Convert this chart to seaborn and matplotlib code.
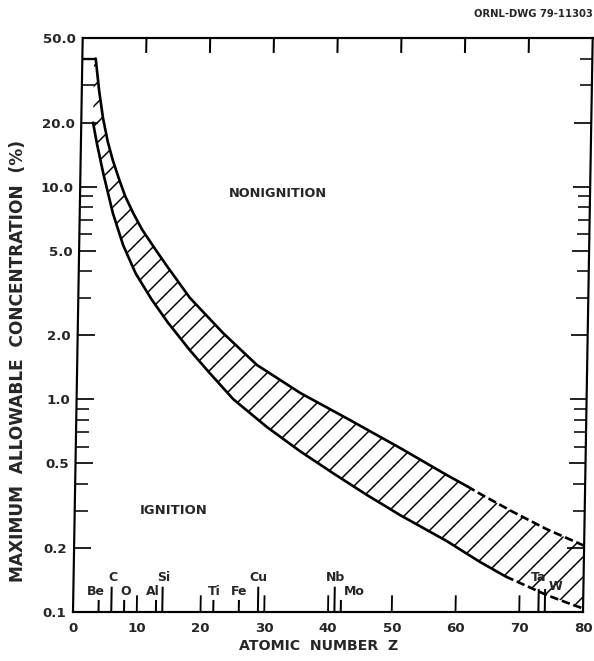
import matplotlib
matplotlib.use("Agg")
import matplotlib.pyplot as plt
import matplotlib.transforms as mtransforms
from matplotlib.axes import Axes
from matplotlib.projections import register_projection
import numpy as np
import pandas as pd
import seaborn as sns
from matplotlib.ticker import FixedLocator, FixedFormatter, NullFormatter

# Upper boundary of the band: above it no ignition occurs
z_upper = [2.1, 2.7, 3.4, 4.2, 5.05, 6.1, 7.1, 8.4, 9.8, 11.9, 13.9, 17.5,
           22.8, 28.2, 35.1, 42.9, 50.9, 58.3, 61.5, 63.5, 68.8, 74.1, 80.0]
c_upper = [40.0, 28.5, 21.0, 16.3, 13.3, 10.8, 9.0, 7.5, 6.3, 5.1, 4.2, 3.0,
           2.05, 1.45, 1.07, 0.80, 0.59, 0.44, 0.39, 0.36, 0.295, 0.245, 0.205]

# Lower boundary of the band: below it ignition is possible
z_lower = [1.85, 2.5, 3.6, 5.2, 6.9, 8.95, 11.5, 14.1, 17.65, 20.8, 24.6,
           29.95, 35.2, 40.4, 45.8, 51.1, 58.5, 63.7, 67.75, 74.3, 78.4, 80.0]
c_lower = [20.0, 16.0, 11.5, 7.5, 5.3, 3.9, 2.95, 2.3, 1.7, 1.33, 1.0,
           0.74, 0.57, 0.45, 0.355, 0.285, 0.215, 0.172, 0.147, 0.120, 0.108, 0.104]

# Beyond these Z values the boundaries are extrapolated
z_upper_extrap = 61.5
z_lower_extrap = 67.75

elements = ["Be", "C", "O", "Al", "Si", "Ti", "Fe", "Cu", "Nb", "Mo", "Ta", "W"]
element_z = [4, 6, 8, 13, 14, 22, 26, 29, 41, 42, 73, 74]

y_ticks = [0.1, 0.2, 0.5, 1.0, 2.0, 5.0, 10.0, 20.0, 50.0]
y_tick_labels = ["0.1", "0.2", "0.5", "1.0", "2.0", "5.0", "10.0", "20.0", "50.0"]
y_minor = [0.3, 0.4, 0.6, 0.7, 0.8, 0.9, 3, 4, 6, 7, 8, 9, 30, 40]
x_ticks = [0, 10, 20, 30, 40, 50, 60, 70, 80]
x_tick_labels = ["0", "10", "20", "30", "40", "50", "60", "70", "80"]
x_inner_ticks = [10, 20, 30, 40, 50, 60, 70]


class LeaningAxes(Axes):
    """Axes drawn as a slightly leaning frame (top edge shifted right)."""
    name = "leaning"
    lean = 0.019  # shift of the top edge, in axes widths

    def _set_lim_and_transforms(self):
        super()._set_lim_and_transforms()
        shear = mtransforms.Affine2D().skew(np.arctan(self.lean), 0)
        self.transAxes = shear + mtransforms.BboxTransformTo(self.bbox)
        self.transDataToAxes = self.transScale + self.transLimits
        self.transData = self.transDataToAxes + self.transAxes
        self._xaxis_transform = mtransforms.blended_transform_factory(
            self.transDataToAxes, mtransforms.IdentityTransform()) + self.transAxes
        self._yaxis_transform = mtransforms.blended_transform_factory(
            mtransforms.IdentityTransform(), self.transDataToAxes) + self.transAxes


register_projection(LeaningAxes)

sns.set_style("ticks")
plt.rcParams["font.family"] = ["DejaVu Sans"]
plt.rcParams["hatch.linewidth"] = 0.9
plt.rcParams["hatch.color"] = "black"

DPI = 120
fig = plt.figure(figsize=(594 / DPI, 661 / DPI), dpi=DPI)
ax = fig.add_axes([73 / 594, 49 / 661, 510 / 594, 574 / 661], projection="leaning")
ax.set_yscale("log")
ax.set_xlim(0, 80)
ax.set_ylim(0.1, 50)

up = pd.DataFrame({"z": z_upper, "c": c_upper})
lo = pd.DataFrame({"z": z_lower, "c": c_lower})

# Hatched band between the two boundaries
poly_z = list(up["z"]) + list(lo["z"][::-1]) + [lo["z"].iloc[0]]
poly_c = list(up["c"]) + list(lo["c"][::-1]) + [up["c"].iloc[0]]
ax.fill(poly_z, poly_c, facecolor="none", edgecolor="black", hatch="//",
        linewidth=0)

line_kw = dict(color="black", linewidth=1.6, estimator=None, sort=False)
dash_kw = dict(dashes=False, linestyle=(0, (3.2, 1.4)))
sns.lineplot(data=up[up["z"] <= z_upper_extrap], x="z", y="c", ax=ax, **line_kw)
sns.lineplot(data=lo[lo["z"] <= z_lower_extrap], x="z", y="c", ax=ax, **line_kw)
sns.lineplot(data=up[up["z"] >= z_upper_extrap], x="z", y="c", ax=ax,
             **dash_kw, **line_kw)
sns.lineplot(data=lo[lo["z"] >= z_lower_extrap], x="z", y="c", ax=ax,
             **dash_kw, **line_kw)

# Cap closing the top of the band
ax.hlines(up["c"].iloc[0], 0, up["z"].iloc[0], color="black", linewidth=1.4)

# Axis ticks and labels
for s in ax.spines.values():
    s.set_linewidth(1.3)
    s.set_color("black")
ax.yaxis.set_major_locator(FixedLocator(y_ticks))
ax.yaxis.set_major_formatter(FixedFormatter(y_tick_labels))
ax.yaxis.set_minor_locator(FixedLocator(y_minor))
ax.yaxis.set_minor_formatter(NullFormatter())
ax.xaxis.set_major_locator(FixedLocator(x_ticks))
ax.xaxis.set_major_formatter(FixedFormatter(x_tick_labels))
ax.tick_params(axis="y", which="major", direction="in", length=10, width=1.2,
               left=True, right=True, labelsize=8, pad=4)
ax.tick_params(axis="y", which="minor", direction="in", length=7.5, width=1.1,
               left=True, right=True)
ax.tick_params(axis="x", which="major", direction="in", length=0, width=1.2,
               top=False, bottom=True, labelsize=8, pad=6)
for lab in ax.get_xticklabels() + ax.get_yticklabels():
    lab.set_fontweight("bold")

# Tick marks along top and bottom edges
xt = ax.get_xaxis_transform()
ax.vlines(x_inner_ticks, 1.0, 1.0 - 0.026, transform=xt, color="black", linewidth=1.2)
ax.vlines(x_inner_ticks, 0.0, 0.029, transform=xt, color="black", linewidth=1.1)

# Element markers along the Z axis
label_pos = {
    "Be": (-0.5, 0.035, "center", 0.021),
    "C": (0.2, 0.060, "center", 0.044),
    "O": (0.2, 0.035, "center", 0.021),
    "Al": (-0.6, 0.035, "center", 0.021),
    "Si": (0.1, 0.060, "center", 0.044),
    "Ti": (0.1, 0.035, "center", 0.021),
    "Fe": (0.0, 0.035, "center", 0.021),
    "Cu": (0.0, 0.060, "center", 0.044),
    "Nb": (0.1, 0.060, "center", 0.044),
    "Mo": (0.4, 0.035, "left", 0.021),
    "Ta": (0.0, 0.060, "center", 0.040),
    "W": (0.6, 0.044, "left", 0.040),
}
for name, z in zip(elements, element_z):
    dz, ty, ha, h = label_pos[name]
    ax.vlines(z, 0.0, h, transform=xt, color="black", linewidth=1.2)
    ax.text(z + dz, ty, name, transform=xt, ha=ha, va="center",
            fontsize=7.5, fontweight="bold")

# Region labels
ax.text(23.4, 9.3, "NONIGNITION", ha="left", va="center", fontsize=7.7,
        fontweight="bold")
ax.text(10.2, 0.30, "IGNITION", ha="left", va="center", fontsize=7.9,
        fontweight="bold")

ax.set_xlabel("ATOMIC  NUMBER  Z", fontsize=8.5, fontweight="bold")
ax.xaxis.set_label_coords(0.482, -0.047)
ax.set_ylabel("MAXIMUM  ALLOWABLE  CONCENTRATION  (%)", fontsize=10.2,
              fontweight="bold")
ax.yaxis.set_label_coords(-0.099, 0.437)

fig.text(593 / 594, 1 - 14 / 661, "ORNL-DWG 79-11303", ha="right", va="center",
         fontsize=6.0, fontweight="bold")

fig.savefig("out.png", dpi=DPI)
